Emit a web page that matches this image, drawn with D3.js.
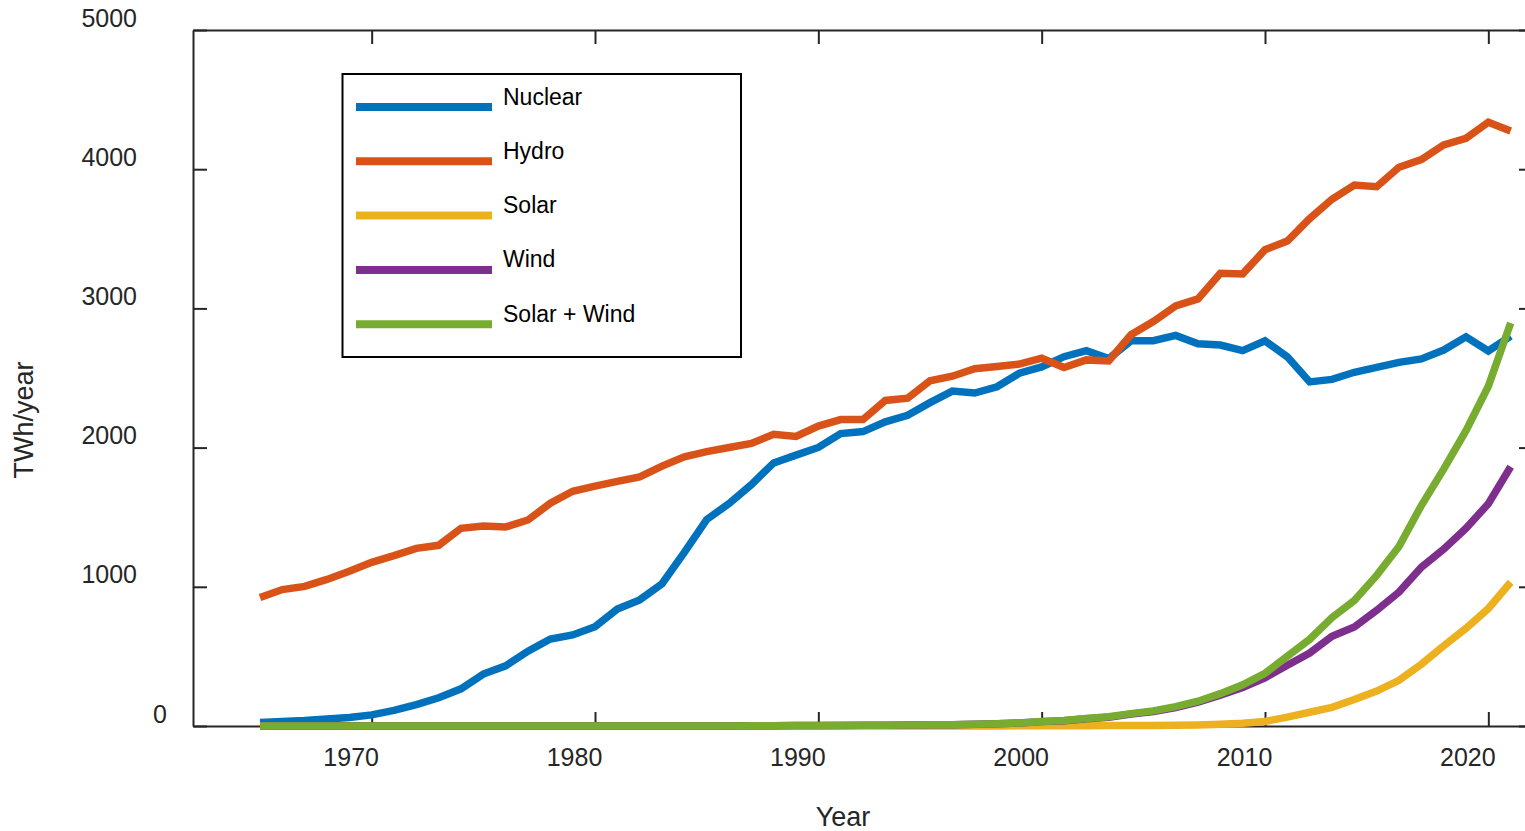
<!DOCTYPE html>
<html>
<head>
<meta charset="utf-8">
<script src="https://cdn.jsdelivr.net/npm/d3@7"></script>
<style>
  html, body { margin: 0; padding: 0; background: #fff; }
  svg { display: block; font-family: "Liberation Sans", Arial, Helvetica, sans-serif; }
</style>
</head>
<body>
<svg id="chart" width="1525" height="831"></svg>
<script>
const years = [1965,1966,1967,1968,1969,1970,1971,1972,1973,1974,
  1975,1976,1977,1978,1979,1980,1981,1982,1983,1984,
  1985,1986,1987,1988,1989,1990,1991,1992,1993,1994,
  1995,1996,1997,1998,1999,2000,2001,2002,2003,2004,
  2005,2006,2007,2008,2009,2010,2011,2012,2013,2014,
  2015,2016,2017,2018,2019,2020,2021];

const nuclear = [26,33,40,51,61,80,112,154,203,267,
  373,432,538,625,654,713,840,906,1022,1247,
  1483,1598,1734,1890,1946,2001,2101,2115,2185,2232,
  2323,2406,2392,2437,2534,2580,2653,2696,2639,2767,
  2768,2806,2746,2737,2697,2767,2652,2472,2490,2541,
  2576,2612,2637,2701,2796,2694,2800];

const hydro = [923,980,1003,1053,1112,1176,1224,1276,1298,1420,
  1437,1430,1480,1600,1686,1723,1757,1789,1867,1934,
  1971,2001,2030,2096,2080,2155,2201,2202,2339,2355,
  2480,2513,2567,2582,2600,2642,2575,2630,2622,2811,
  2906,3018,3068,3253,3248,3421,3484,3645,3784,3886,
  3874,4014,4069,4175,4222,4337,4274];

const solar = [0,0,0,0,0,0,0,0,0,0,
  0,0,0,0,0,0,0,0,0.01,0.02,
  0.03,0.05,0.1,0.2,0.3,0.39,0.42,0.45,0.48,0.52,
  0.56,0.6,0.7,0.8,0.95,1.1,1.4,2.0,2.7,3.6,
  4.4,5.7,7.5,12,20,32,64,99,134,190,
  251,328,444,575,702,844,1033];

const wind = [0,0,0,0,0,0,0,0,0,0,
  0,0,0,0,0,0,0,0,0.03,0.1,
  0.2,0.5,1.0,1.8,2.7,3.6,4.1,4.7,5.6,7.3,
  8.3,9.2,12.0,16.0,21.1,31.4,38.4,52.3,63.4,85.1,
  104,132.9,170.7,220.6,276,346.5,437,524,645,712,
  831,962,1140,1270,1420,1597,1862];

const solarWind = [0,0,0,0,0,0,0,0,0,0,
  0,0,0,0,0,0,0,0,0.04,0.12,
  0.23,0.55,1.1,2.0,3.0,4.0,4.5,5.2,6.1,7.8,
  8.9,9.8,12.7,16.8,22.1,32.5,39.8,54.3,66.1,88.7,
  108.4,138.6,178.2,232.6,296,378.5,501,623,779,902,
  1082,1290,1584,1845,2122,2441,2895];

const seriesNames = ["Nuclear","Hydro","Solar","Wind","Solar + Wind"];
const seriesColors = ["#0072BD","#D95319","#EDB120","#7E2F8E","#77AC30"];
const seriesValues = [nuclear, hydro, solar, wind, solarWind];

const xTicks = [1970,1980,1990,2000,2010,2020];
const yTicks = [0,1000,2000,3000,4000,5000];

const svg = d3.select("#chart");
const axisColor = "#262626";
const plotLeft = 193, plotRight = 1533, plotTop = 30, plotBottom = 726;

const x = d3.scaleLinear().domain([1962, 2022]).range([plotLeft, plotRight]);
const y = d3.scaleLinear().domain([0, 5000]).range([plotBottom, plotTop]);

// Axes (MATLAB box style, inward ticks)
const gB = svg.append("g").attr("transform", `translate(0,${plotBottom})`)
  .call(d3.axisBottom(x).tickValues(xTicks).tickSizeInner(-14).tickSizeOuter(0).tickFormat(d3.format("d")));
gB.selectAll("text").attr("x", -21).attr("y", 40).attr("dy", null)
  .attr("font-size", 25).attr("fill", axisColor);

const gT = svg.append("g").attr("transform", `translate(0,${plotTop})`)
  .call(d3.axisTop(x).tickValues(xTicks).tickSizeInner(-14).tickSizeOuter(0).tickFormat(""));

const gL = svg.append("g").attr("transform", `translate(${plotLeft},0)`)
  .call(d3.axisLeft(y).tickValues(yTicks).tickSizeInner(-14).tickSizeOuter(0).tickFormat(d3.format("d")));
gL.selectAll("text")
  .attr("x", d => d === 0 ? -26 : -56)
  .attr("y", -4).attr("dy", null)
  .attr("text-anchor", "end")
  .attr("font-size", 25).attr("fill", axisColor);

const gR = svg.append("g").attr("transform", `translate(${plotRight},0)`)
  .call(d3.axisRight(y).tickValues(yTicks).tickSizeInner(-14).tickSizeOuter(0).tickFormat(""));

svg.selectAll(".domain").attr("stroke", axisColor).attr("stroke-width", 2);
svg.selectAll(".tick line").attr("stroke", axisColor).attr("stroke-width", 2);

// Axis labels
svg.append("text").attr("x", 843).attr("y", 826).attr("text-anchor", "middle")
  .attr("font-size", 27).attr("fill", axisColor).text("Year");
svg.append("text").attr("transform", "translate(33,420) rotate(-90)")
  .attr("text-anchor", "middle").attr("font-size", 27).attr("fill", axisColor).text("TWh/year");

// Lines
const line = d3.line().x((d, i) => x(years[i])).y(d => y(d));
seriesValues.forEach((vals, k) => {
  svg.append("path")
    .datum(vals)
    .attr("d", line)
    .attr("fill", "none")
    .attr("stroke", seriesColors[k])
    .attr("stroke-width", 7.5)
    .attr("stroke-linejoin", "miter")
    .attr("stroke-linecap", "butt");
});

// Legend
const lg = svg.append("g");
lg.append("rect").attr("x", 342.5).attr("y", 74).attr("width", 398.5).attr("height", 283)
  .attr("fill", "#fff").attr("stroke", "#000").attr("stroke-width", 2);
seriesNames.forEach((name, i) => {
  const ly = 107 + i * 54.3;
  lg.append("line").attr("x1", 356).attr("x2", 492).attr("y1", ly).attr("y2", ly)
    .attr("stroke", seriesColors[i]).attr("stroke-width", 8);
  lg.append("text").attr("x", 503).attr("y", ly - 2.5)
    .attr("font-size", 23).attr("fill", "#000").text(name);
});
</script>
</body>
</html>
